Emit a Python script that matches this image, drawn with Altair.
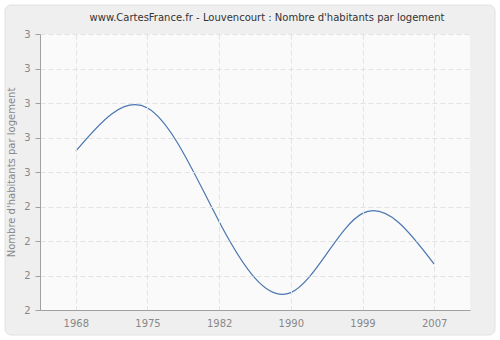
import altair as alt
import pandas as pd

years = ["1968", "1975", "1982", "1990", "1999", "2007"]
values = [2.576, 2.732, 2.320, 2.063, 2.350, 2.166]
y_ticks = [2.0, 2.125, 2.25, 2.375, 2.5, 2.625, 2.75, 2.875, 3.0]

df = pd.DataFrame({"annee": years, "valeur": values})

FONT = "DejaVu Sans"

deco = pd.DataFrame({"a": [0]})
frame = alt.Chart(deco).mark_rect(
    fill="#efefef", stroke="#e2e2e2", strokeWidth=1, cornerRadius=6
).encode(
    x=alt.value(-35), x2=alt.value(455), y=alt.value(-29), y2=alt.value(301)
)
plotbg = alt.Chart(deco).mark_rect(fill="#fafafa").encode(
    x=alt.value(0), x2=alt.value(430), y=alt.value(0), y2=alt.value(276)
)

line = alt.Chart(df).mark_line(
    interpolate="natural", color="#4a77b0", strokeWidth=1.2
).encode(
    x=alt.X("annee:O", sort=years,
            scale=alt.Scale(type="point", padding=0.5),
            axis=alt.Axis(title=None, labelAngle=0, ticks=False, labelPadding=8,
                          grid=True, gridDash=[5, 3], gridColor="#e3e3e3",
                          domainColor="#a0a0a0", labelColor="#888888",
                          labelFont=FONT, labelFontSize=10, zindex=1)),
    y=alt.Y("valeur:Q",
            scale=alt.Scale(domain=[2, 3], nice=False, zero=False),
            axis=alt.Axis(title="Nombre d'habitants par logement", values=y_ticks,
                          format=".0f", tickSize=5, tickColor="#a0a0a0",
                          domainColor="#a0a0a0", labelColor="#888888",
                          labelFont=FONT, labelFontSize=10, labelPadding=5,
                          titleFont=FONT, titleFontSize=10, titleFontWeight="normal",
                          titleColor="#888888", titlePadding=7,
                          grid=True, gridDash=[5, 3], gridColor="#e3e3e3", zindex=1)),
)

chart = alt.layer(frame, plotbg, line).properties(
    width=430, height=276,
    title=alt.TitleParams(
        "www.CartesFrance.fr - Louvencourt : Nombre d'habitants par logement",
        font=FONT, fontSize=10, fontWeight="normal", color="#333333",
        anchor="middle", frame="group", offset=-18, dx=12),
    padding={"left": 40, "top": 34, "right": 30, "bottom": 30},
    autosize=alt.AutoSizeParams(type="none"),
    background="white",
).configure_view(stroke=None)

chart.save("out.html", embed_options={"renderer": "svg", "actions": False})
